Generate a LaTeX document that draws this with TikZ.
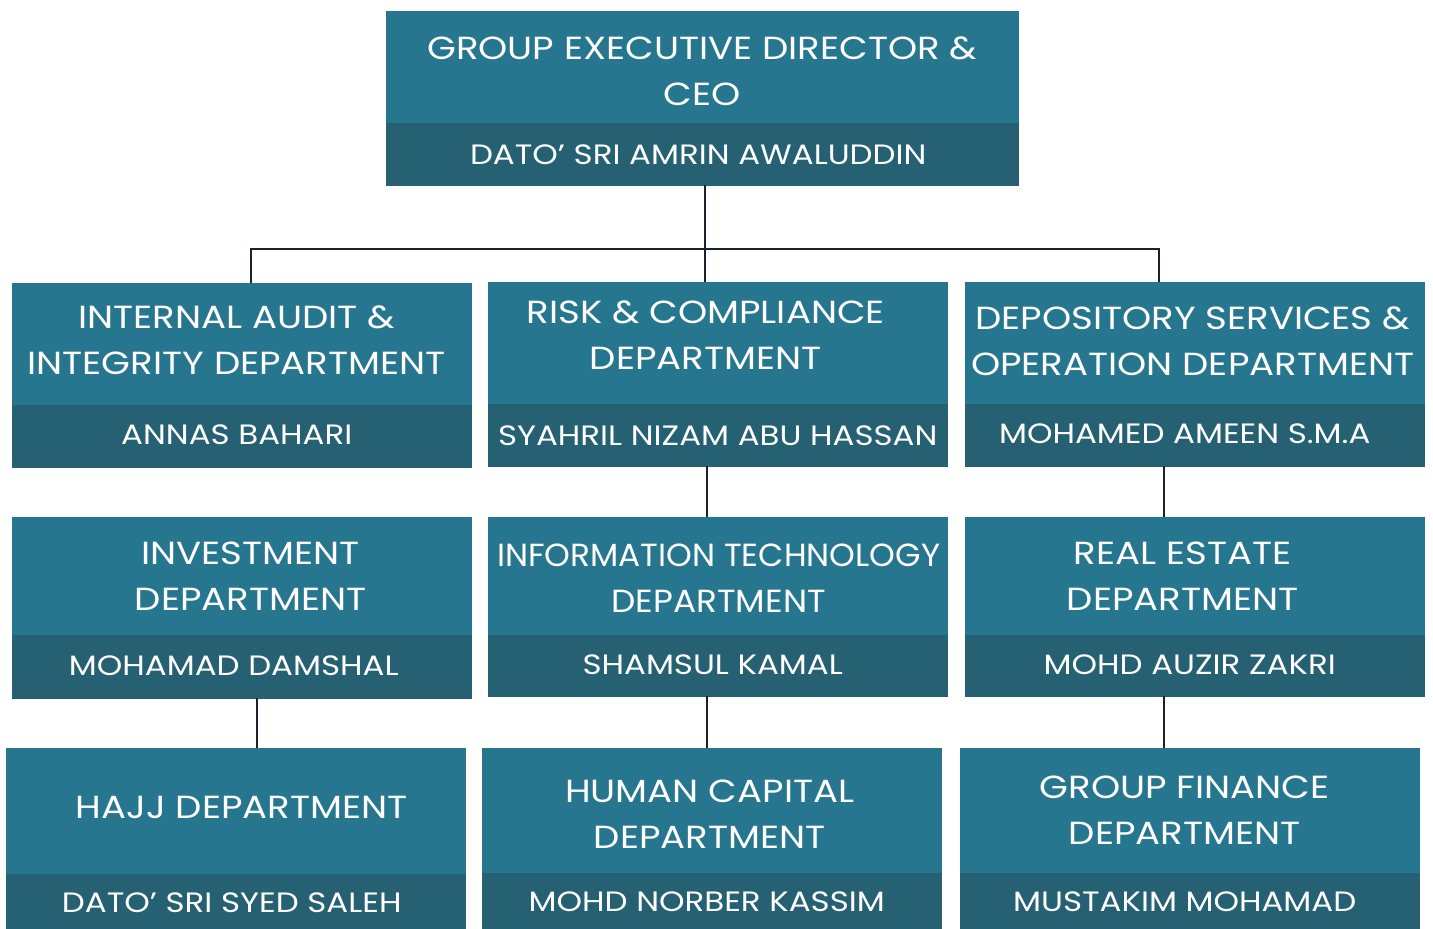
\documentclass[tikz,border=0pt]{standalone}
\usepackage{fontspec}
\usepackage{graphicx}
\setmainfont{Poppins}[FakeStretch=1.16]
\definecolor{topteal}{RGB}{39,118,143}
\definecolor{botteal}{RGB}{38,96,115}
\definecolor{linecol}{RGB}{25,35,48}
\tikzset{
  tbox/.style={fill=topteal, draw=topteal, line width=0.5pt, inner sep=0pt},
  bbox/.style={fill=botteal, draw=botteal, line width=0.5pt, inner sep=0pt},
  ttext/.style={text=white, inner sep=0pt, align=center, font=\fontsize{32}{46}\selectfont},
  ntext/.style={text=white, inner sep=0pt, align=center, font=\fontsize{28}{30}\selectfont},
  conn/.style={draw=linecol, line width=2pt}
}
% #1 name, #2 x,y, #3 width, #4 top h, #5 bottom h, #6 title opts, #7 title, #8 name opts, #9 person
\newcommand\orgbox[9]{%
  \node[tbox, minimum width=#3pt, minimum height=#4pt, anchor=north west] (#1) at (#2) {};
  \node[ttext, #6] (#1t) at (#1.center) {#7};
  \node[bbox, minimum width=#3pt, minimum height=#5pt, anchor=north] (#1n) at (#1.south) {};
  \node[ntext, #8] (#1p) at (#1n.center) {#9};
}
\begin{document}
\begin{tikzpicture}[x=1pt,y=-1pt]
\useasboundingbox (0,0) rectangle (1433,929);
\orgbox{ceo}{386,11}{632}{111}{62}{yshift=-4pt}{GROUP EXECUTIVE DIRECTOR \&\\CEO}{xshift=-4pt,yshift=-1pt}{DATO’ SRI AMRIN AWALUDDIN}
\orgbox{ia}{12,283}{459}{121}{62}{xshift=-5pt,yshift=4pt}{INTERNAL AUDIT \&\\INTEGRITY DEPARTMENT}{xshift=-5pt,yshift=1pt}{ANNAS BAHARI}
\orgbox{rc}{488,282}{459}{121}{62}{xshift=-12pt,yshift=8pt}{RISK \& COMPLIANCE\\DEPARTMENT}{yshift=-1pt}{SYAHRIL NIZAM ABU HASSAN}
\orgbox{ds}{965,282}{459}{121}{62}{xshift=-2pt,yshift=2pt}{DEPOSITORY SERVICES \&\\OPERATION DEPARTMENT}{xshift=-10pt,yshift=1pt}{MOHAMED AMEEN S.M.A}
\orgbox{inv}{12,517}{459}{117}{63}{xshift=9pt}{INVESTMENT\\DEPARTMENT}{xshift=-8pt,yshift=1pt}{MOHAMAD DAMSHAL}
\orgbox{it}{488,517}{459}{117}{61}{xshift=1pt,yshift=-2pt}{\resizebox{443pt}{\height}{INFORMATION TECHNOLOGY}\\\resizebox{214pt}{\height}{DEPARTMENT}}{xshift=-5pt,yshift=1pt}{SHAMSUL KAMAL}
\orgbox{re}{965,517}{459}{117}{61}{xshift=-12pt}{REAL ESTATE\\DEPARTMENT}{xshift=-5pt,yshift=1pt}{MOHD AUZIR ZAKRI}
\orgbox{hajj}{6,748}{459}{125}{56}{xshift=6pt,yshift=3pt}{HAJJ DEPARTMENT}{xshift=-4pt,yshift=-1pt}{DATO’ SRI SYED SALEH}
\orgbox{hc}{482,748}{459}{124}{57}{xshift=-2pt,yshift=-4pt}{HUMAN CAPITAL\\DEPARTMENT}{xshift=-5pt}{MOHD NORBER KASSIM}
\orgbox{gf}{960,748}{459}{124}{57}{xshift=-5pt}{GROUP FINANCE\\DEPARTMENT}{xshift=-5pt}{MUSTAKIM MOHAMAD}
\coordinate (bus) at (705,249);
\coordinate (busL) at (251,249);
\coordinate (busR) at (1159,249);
\draw[conn] (ceon.south -| bus) -- (bus);
\draw[conn] (busL |- ia.north) -- (busL) -- (busR) -- (busR |- ds.north);
\draw[conn] (bus) -- (bus |- rc.north);
\draw[conn] ([xshift=-10.5pt]rcn.south) -- ([xshift=-10.5pt]rcn.south |- it.north);
\draw[conn] ([xshift=-31pt]dsn.south) -- ([xshift=-31pt]dsn.south |- re.north);
\draw[conn] ([xshift=15pt]invn.south) -- ([xshift=15pt]invn.south |- hajj.north);
\draw[conn] ([xshift=-11pt]itn.south) -- ([xshift=-11pt]itn.south |- hc.north);
\draw[conn] ([xshift=-31pt]ren.south) -- ([xshift=-31pt]ren.south |- gf.north);
\end{tikzpicture}
\end{document}
